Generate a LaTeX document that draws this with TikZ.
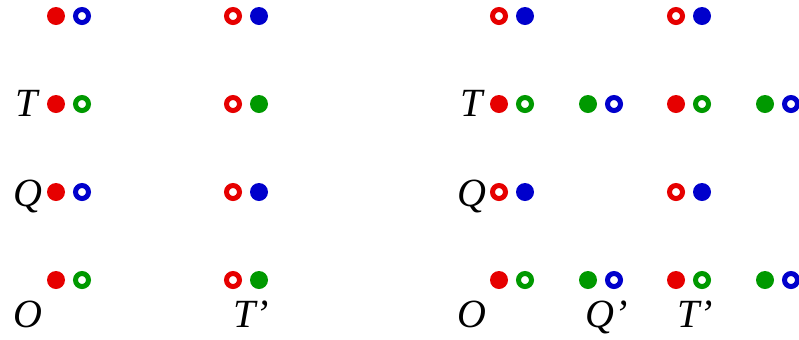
\documentclass[tikz,border=0pt]{standalone}
\usepackage{fontspec}
\setmainfont{Liberation Serif}
\usepackage{xcolor}
\definecolor{dotred}{RGB}{230, 0, 0}
\definecolor{dotblue}{RGB}{0, 0, 204}
\definecolor{dotgreen}{RGB}{0, 153, 0}

\tikzset{
    rf/.style={circle, fill=dotred, inner sep=0pt, minimum size=9pt},
    bf/.style={circle, fill=dotblue, inner sep=0pt, minimum size=9pt},
    gf/.style={circle, fill=dotgreen, inner sep=0pt, minimum size=9pt},
    rr/.style={circle, draw=dotred, line width=2.5pt, inner sep=0pt, minimum size=6.5pt},
    br/.style={circle, draw=dotblue, line width=2.5pt, inner sep=0pt, minimum size=6.5pt},
    gr/.style={circle, draw=dotgreen, line width=2.5pt, inner sep=0pt, minimum size=6.5pt},
    lbl/.style={font=\fontsize{20}{24}\selectfont\itshape, inner sep=0pt, anchor=base}
}

\begin{document}
\begin{tikzpicture}[x=0.5pt, y=-0.5pt]

    \useasboundingbox (0,0) rectangle (799,339);

    \def\G{26}  % hueco dentro de un par
    \def\D{443} % corrimiento del panel derecho

    % ==========================================================
    % panel izquierdo
    % ==========================================================
    \begin{scope}
        \foreach \x/\y/\s/\t/\n in {56/16/rf/br/1, 233/16/rr/bf/2,
                                    56/104/rf/gr/3, 233/104/rr/gf/4,
                                    56/192/rf/br/5, 233/192/rr/bf/6,
                                    56/280/rf/gr/7, 233/280/rr/gf/8} {
            \node[\s] (a\n) at (\x,\y) {};
            \node[\t] (b\n) at (\x+\G,\y) {};
        }

        \node[lbl] (T) at (27,116) {T};
        \node[lbl] (Q) at (28,206) {Q};
        \node[lbl] (O) at (28,327) {O};
        \node[lbl] (Tp) at (251,327) {T’};
    \end{scope}

    % ==========================================================
    % panel derecho
    % ==========================================================
    \begin{scope}[shift={(\D,0)}]
        \foreach \x/\y/\s/\t/\n in {56/16/rr/bf/1, 233/16/rr/bf/2,
                                    56/104/rf/gr/3, 145/104/gf/br/4,
                                    233/104/rf/gr/5, 322/104/gf/br/6,
                                    56/192/rr/bf/7, 233/192/rr/bf/8,
                                    56/280/rf/gr/9, 145/280/gf/br/10,
                                    233/280/rf/gr/11, 322/280/gf/br/12} {
            \node[\s] (c\n) at (\x,\y) {};
            \node[\t] (d\n) at (\x+\G,\y) {};
        }

        \node[lbl] (T2) at (29,116) {T};
        \node[lbl] (Q2) at (29,206) {Q};
        \node[lbl] (O2) at (29,327) {O};
        \node[lbl] (Qp2) at (164,327) {Q’};
        \node[lbl] (Tp2) at (252,327) {T’};
    \end{scope}

\end{tikzpicture}
\end{document}
